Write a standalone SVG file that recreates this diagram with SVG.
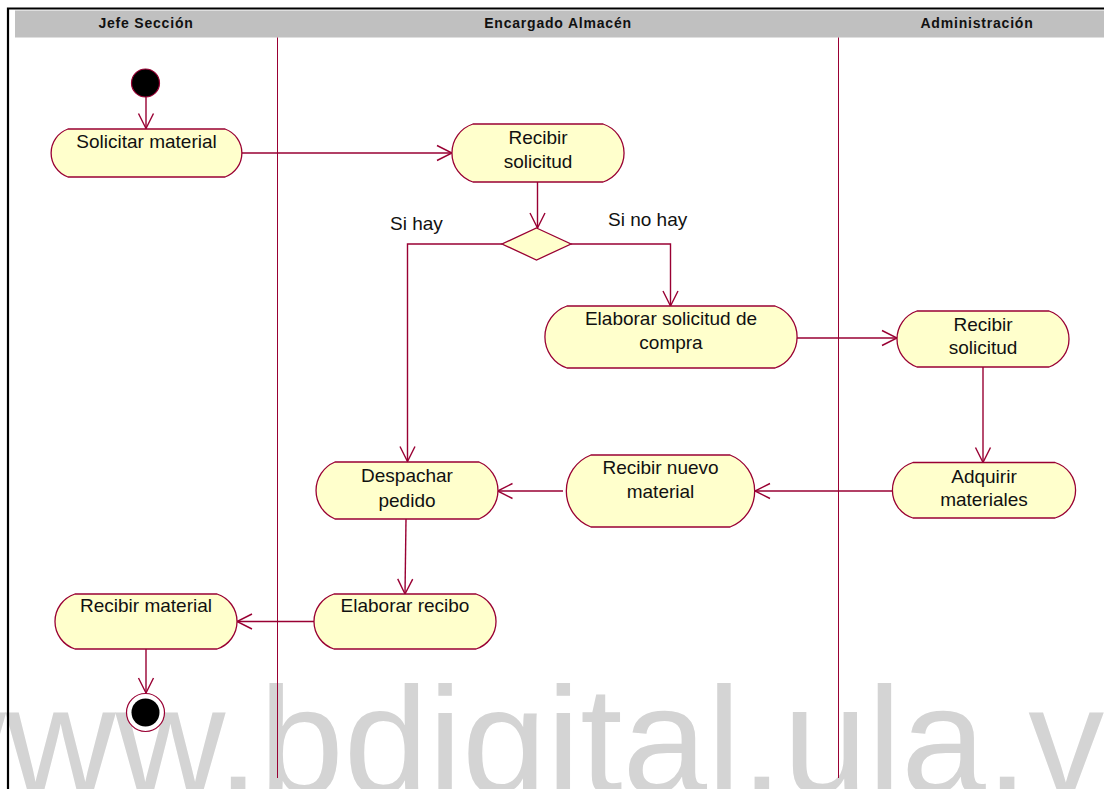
<svg xmlns="http://www.w3.org/2000/svg" width="1104" height="789" viewBox="0 0 1104 789">
  <defs>
    <style>
      .lane-title { font-family: "Liberation Sans", Arial, sans-serif; font-size: 14px; font-weight: bold; letter-spacing: 0.8px; fill: #111; text-anchor: middle; }
      .act { fill: #ffffcc; stroke: #990033; stroke-width: 1.3; }
      .act-text { font-family: "Liberation Sans", Arial, sans-serif; font-size: 19px; fill: #111; text-anchor: middle; }
      .guard { font-family: "Liberation Sans", Arial, sans-serif; font-size: 19px; fill: #111; }
      .flow { fill: none; stroke: #990033; stroke-width: 1.4; marker-end: url(#open-arrow); }
      .divider { stroke: #990033; stroke-width: 1; }
      .watermark { font-family: "Liberation Sans", Arial, sans-serif; font-size: 152px; fill: #d4d4d4; }
    </style>
    <marker id="open-arrow" viewBox="-17 -10 19 20" refX="0" refY="0" markerWidth="19" markerHeight="20" markerUnits="userSpaceOnUse" orient="auto">
      <path d="M-15,-7.5 L0,0 L-15,7.5" fill="none" stroke="#990033" stroke-width="1.4"/>
    </marker>
  </defs>

  <rect width="1104" height="789" fill="#ffffff"/>

  <!-- background watermark -->
  <text class="watermark" x="-104" y="793">www.bdigital.ula.ve</text>

  <!-- frame and swimlane headers -->
  <g id="swimlanes">
    <path d="M8,800 V8.5 H1110" fill="none" stroke="#000" stroke-width="2.2"/>
    <rect x="15" y="10.5" width="1100" height="27" fill="#c0c0c0"/>
    <text class="lane-title" x="146" y="28">Jefe Sección</text>
    <text class="lane-title" x="558" y="28">Encargado Almacén</text>
    <text class="lane-title" x="977" y="28">Administración</text>
    <line class="divider" x1="277.5" y1="37.5" x2="277.5" y2="778"/>
    <line class="divider" x1="838.5" y1="37.5" x2="838.5" y2="778"/>
  </g>

  <!-- control flows -->
  <g id="connectors">
    <path class="flow" d="M146,97 V128.5"/>
    <path class="flow" d="M237,153 H452"/>
    <path class="flow" d="M537.5,182 V228"/>
    <path class="flow" d="M502,244 H407.5 V461.5"/>
    <path class="flow" d="M571,244 H670.5 V306"/>
    <path class="flow" d="M789,338 H897"/>
    <path class="flow" d="M983,367 V462.5"/>
    <path class="flow" d="M893,491 H755"/>
    <path class="flow" d="M563,491 H497.5"/>
    <path class="flow" d="M406,519 L405,594"/>
    <path class="flow" d="M314,621.5 H237"/>
    <path class="flow" d="M146,649 V693"/>
  </g>

  <g id="start">
    <circle cx="145.5" cy="83" r="14" fill="#000" stroke="#990033" stroke-width="1.2"/>
  </g>

  <g id="solicitar-material">
    <path class="act" d="M68,129 H225 A25.5,25.5 0 0 1 225,177 H68 A25.5,25.5 0 0 1 68,129 Z"/>
    <text class="act-text" x="146.5" y="148">Solicitar material</text>
  </g>

  <g id="recibir-solicitud-almacen">
    <path class="act" d="M473,124 H603 A30.5,30.5 0 0 1 603,182 H473 A30.5,30.5 0 0 1 473,124 Z"/>
    <text class="act-text" x="538" y="144">Recibir</text>
    <text class="act-text" x="538" y="168">solicitud</text>
  </g>

  <g id="decision">
    <polygon class="act" points="536.5,228 571,244 536.5,260 502,244"/>
  </g>
  <text class="guard" x="390" y="230">Si hay</text>
  <text class="guard" x="608" y="226">Si no hay</text>

  <g id="elaborar-solicitud-compra">
    <path class="act" d="M567,306 H775 A32.8,32.8 0 0 1 775,368 H567 A32.8,32.8 0 0 1 567,306 Z"/>
    <text class="act-text" x="671" y="325">Elaborar solicitud de</text>
    <text class="act-text" x="671" y="349">compra</text>
  </g>

  <g id="recibir-solicitud-admin">
    <path class="act" d="M917,311 H1049 A29.6,29.6 0 0 1 1049,367 H917 A29.6,29.6 0 0 1 917,311 Z"/>
    <text class="act-text" x="983" y="330.5">Recibir</text>
    <text class="act-text" x="983" y="354">solicitud</text>
  </g>

  <g id="adquirir-materiales">
    <path class="act" d="M913,462.5 H1055 A29,29 0 0 1 1055,518 H913 A29,29 0 0 1 913,462.5 Z"/>
    <text class="act-text" x="984" y="482.5">Adquirir</text>
    <text class="act-text" x="984" y="506">materiales</text>
  </g>

  <g id="recibir-nuevo-material">
    <path class="act" d="M591,455 H730 A38.6,38.6 0 0 1 730,527 H591 A38.6,38.6 0 0 1 591,455 Z"/>
    <text class="act-text" x="660.5" y="474">Recibir nuevo</text>
    <text class="act-text" x="660.5" y="498">material</text>
  </g>

  <g id="despachar-pedido">
    <path class="act" d="M335,462 H479 A30.9,30.9 0 0 1 479,519 H335 A30.9,30.9 0 0 1 335,462 Z"/>
    <text class="act-text" x="407" y="482">Despachar</text>
    <text class="act-text" x="407" y="506.5">pedido</text>
  </g>

  <g id="elaborar-recibo">
    <path class="act" d="M334,594 H476 A28.9,28.9 0 0 1 476,649 H334 A28.9,28.9 0 0 1 334,594 Z"/>
    <text class="act-text" x="405" y="611.5">Elaborar recibo</text>
  </g>

  <g id="recibir-material">
    <path class="act" d="M75,594 H217 A28.9,28.9 0 0 1 217,649 H75 A28.9,28.9 0 0 1 75,594 Z"/>
    <text class="act-text" x="146" y="611.5">Recibir material</text>
  </g>

  <g id="end">
    <circle cx="145.5" cy="712.5" r="19" fill="#ffffff" stroke="#990033" stroke-width="1.2"/>
    <circle cx="145.5" cy="712.5" r="14" fill="#000"/>
  </g>
</svg>
